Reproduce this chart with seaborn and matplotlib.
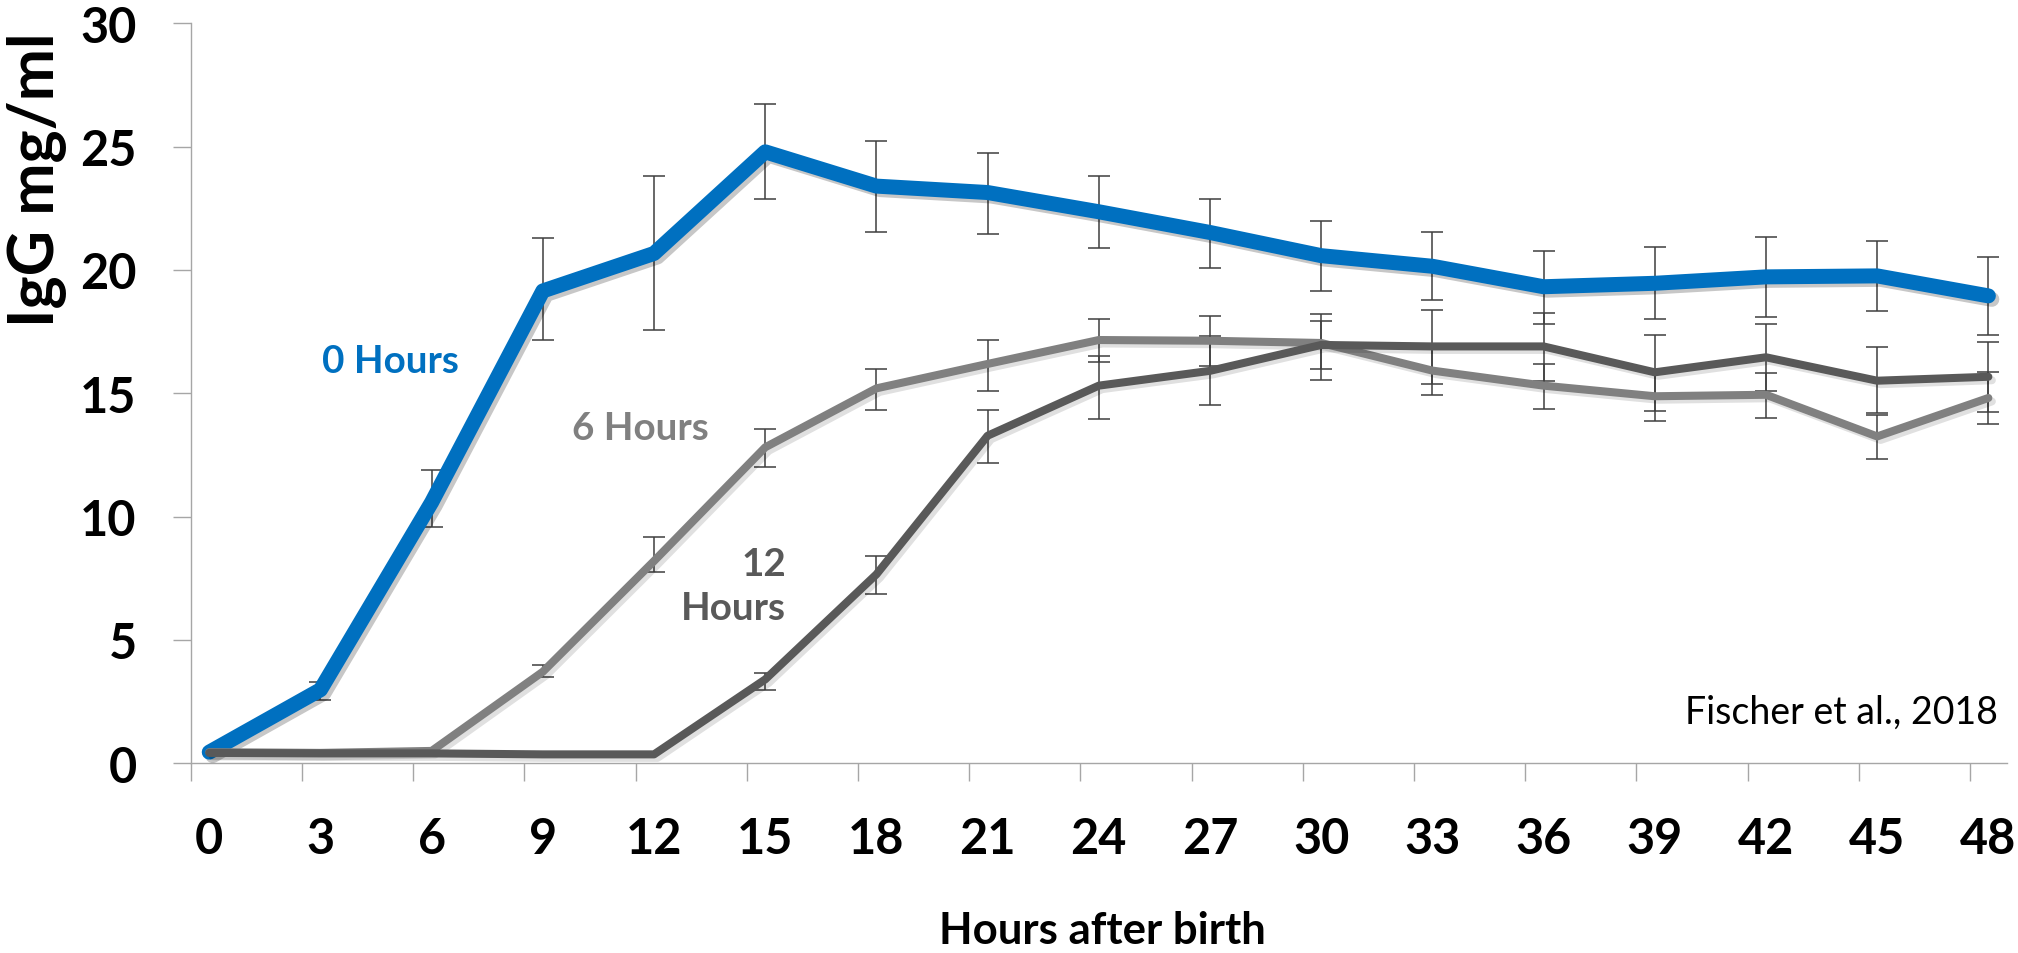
import numpy as np
import pandas as pd
import matplotlib
matplotlib.use("Agg")
import matplotlib.pyplot as plt
import matplotlib.patheffects as pe
from matplotlib.ticker import FixedLocator
import seaborn as sns

# ---------------- data ----------------
hours = [0, 3, 6, 9, 12, 15, 18, 21, 24, 27, 30, 33, 36, 39, 42, 45, 48]

igg_0h = [0.45, 2.98, 10.58, 19.15, 20.67, 24.79, 23.40, 23.14, 22.36, 21.52,
          20.58, 20.15, 19.32, 19.46, 19.72, 19.76, 18.95]
igg_0h_lo = [0.45, 2.57, 9.57, 17.16, 17.55, 22.89, 21.54, 21.44, 20.90, 20.08,
             19.15, 18.77, 17.82, 18.00, 18.10, 18.32, 17.37]
igg_0h_hi = [0.45, 3.30, 11.90, 21.28, 23.80, 26.71, 25.21, 24.75, 23.79, 22.87,
             21.97, 21.55, 20.77, 20.92, 21.33, 21.16, 20.54]

igg_6h = [0.45, 0.42, 0.50, 3.71, 8.20, 12.81, 15.20, 16.19, 17.16, 17.13,
          17.04, 15.92, 15.31, 14.88, 14.94, 13.25, 14.81]
igg_6h_lo = [0.45, 0.42, 0.50, 3.49, 7.75, 12.00, 14.33, 15.08, 16.26, 16.12,
             15.97, 14.94, 14.35, 13.89, 14.01, 12.32, 13.75]
igg_6h_hi = [0.45, 0.42, 0.50, 3.98, 9.19, 13.57, 16.00, 17.17, 18.02, 18.14,
             18.20, 16.90, 16.20, 15.87, 15.83, 14.10, 15.87]

igg_12h = [0.42, 0.40, 0.40, 0.36, 0.36, 3.40, 7.66, 13.28, 15.31, 15.91,
           16.96, 16.90, 16.90, 15.85, 16.46, 15.51, 15.67]
igg_12h_lo = [0.42, 0.40, 0.40, 0.36, 0.36, 2.95, 6.88, 12.16, 13.97, 14.51,
              15.52, 15.36, 15.51, 14.27, 15.10, 14.19, 14.25]
igg_12h_hi = [0.42, 0.40, 0.40, 0.36, 0.36, 3.64, 8.42, 14.33, 16.52, 17.31,
              17.93, 18.39, 18.24, 17.35, 17.82, 16.86, 17.09]

series_names = ["0 Hours", "6 Hours", "12 Hours"]
y_ticks = [0, 5, 10, 15, 20, 25, 30]

# ---------------- style ----------------
sns.set_theme(style="white")
plt.rcParams["font.family"] = ["Lato", "DejaVu Sans"]

C_BLUE = "#0070C0"
C_GRAY = "#808080"
C_DARK = "#595959"
C_AXIS = "#A6A6A6"
C_ERR = "#3F3F3F"

fig = plt.figure(figsize=(20.18, 9.54), dpi=100)
ax = fig.add_axes([0.0946, 0.1989, 0.8999, 0.7756])

df = pd.DataFrame({
    "hours": hours * 3,
    "igg": igg_0h + igg_6h + igg_12h,
    "lo": igg_0h_lo + igg_6h_lo + igg_12h_lo,
    "hi": igg_0h_hi + igg_6h_hi + igg_12h_hi,
    "group": sum([[n] * len(hours) for n in series_names], []),
})

styles = {
    "0 Hours": dict(color=C_BLUE, lw=10.8, z=3, sh=0.22),
    "6 Hours": dict(color=C_GRAY, lw=5.8, z=4, sh=0.12),
    "12 Hours": dict(color=C_DARK, lw=5.8, z=5, sh=0.12),
}

# error bars (below the lines)
for name in series_names:
    d = df[df.group == name]
    d = d[(d.hi - d.lo) > 1e-6]
    ax.errorbar(d.hours, d.igg, yerr=[d.igg - d.lo, d.hi - d.igg], fmt="none",
                ecolor=C_ERR, elinewidth=1.1, capsize=8, capthick=1.1,
                zorder=2)

for name in series_names:
    st = styles[name]
    d = df[df.group == name]
    sns.lineplot(data=d, x="hours", y="igg", ax=ax, color=st["color"],
                 linewidth=st["lw"], zorder=st["z"], legend=False,
                 solid_capstyle="round", solid_joinstyle="round")
    line = ax.lines[-1]
    line.set_path_effects([
        pe.SimpleLineShadow(offset=(2.5, -2.5), shadow_color="black",
                            alpha=st["sh"]),
        pe.Normal()])

# ---------------- axes ----------------
ax.set_xlim(-0.495, 48.5)
ax.set_ylim(0, 30)
for s in ["top", "right"]:
    ax.spines[s].set_visible(False)
for s in ["left", "bottom"]:
    ax.spines[s].set_color(C_AXIS)
    ax.spines[s].set_linewidth(1.0)

ax.set_yticks(y_ticks)
ax.set_yticklabels([str(v) for v in y_ticks])
ax.set_xticks(hours)
ax.set_xticklabels([str(h) for h in hours])
ax.xaxis.set_minor_locator(FixedLocator([h - 0.495 for h in hours]))

ax.tick_params(axis="y", which="major", direction="out", length=13,
               width=1.0, color=C_AXIS, pad=26, labelsize=35,
               labelcolor="black", left=True)
ax.tick_params(axis="x", which="major", length=0, pad=38, labelsize=35,
               labelcolor="black", bottom=True)
ax.tick_params(axis="x", which="minor", direction="out", length=13,
               width=1.0, color=C_AXIS, bottom=True)
for lab in ax.get_xticklabels() + ax.get_yticklabels():
    lab.set_fontweight("bold")

ax.set_xlabel("Hours after birth", fontsize=31.5, fontweight="bold",
              color="black")
ax.xaxis.set_label_coords(0.502, -0.2253)
ax.xaxis.label.set_va("center")
ax.set_ylabel("IgG mg/ml", fontsize=45, fontweight="bold", color="black")
ax.yaxis.set_label_coords(-0.0855, 0.790)
ax.yaxis.label.set_va("center")
ax.yaxis.label.set_ha("center")

# ---------------- annotations ----------------
ax.text(4.875, 15.86, "0 Hours", color=C_BLUE, fontsize=27.8,
        fontweight="bold", ha="center", va="baseline", zorder=6)
ax.text(11.62, 13.15, "6 Hours", color=C_GRAY, fontsize=27.8,
        fontweight="bold", ha="center", va="baseline", zorder=6)
ax.text(15.56, 5.85, "12\nHours", color=C_DARK, fontsize=27.8,
        fontweight="bold", ha="right", va="baseline", multialignment="right",
        linespacing=1.3, zorder=6)
ax.text(48.26, 1.63, "Fischer et al., 2018", color="black", fontsize=27,
        ha="right", va="baseline", zorder=6)

fig.savefig("out.png", dpi=100, facecolor="white")
